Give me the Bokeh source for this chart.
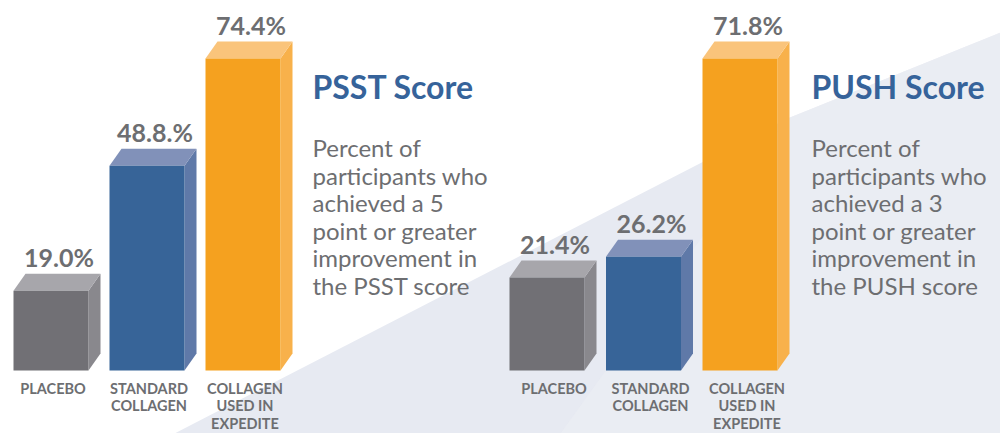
from bokeh.plotting import figure
from bokeh.models import Range1d
from bokeh.core.properties import value
from bokeh.embed import file_html
from bokeh.resources import INLINE

# ---------------- data ----------------
categories = ["PLACEBO", "STANDARD\nCOLLAGEN", "COLLAGEN\nUSED IN\nEXPEDITE"]
psst_values = [19.0, 48.8, 74.4]
psst_labels = ["19.0%", "48.8.%", "74.4%"]
push_values = [21.4, 26.2, 71.8]
push_labels = ["21.4%", "26.2%", "71.8%"]
titles = ["PSST Score", "PUSH Score"]
psst_desc = ["Percent of", "participants who", "achieved a 5", "point or greater",
             "improvement in", "the PSST score"]
push_desc = ["Percent of", "participants who", "achieved a 3", "point or greater",
             "improvement in", "the PUSH score"]

# ---------------- style ----------------
FRONT = ["#717075", "#376498", "#f5a11f"]
TOP = ["#a7a6ab", "#8191b9", "#fac47b"]
SIDE = ["#89888d", "#5f79a8", "#f8b14b"]
GRAY_TXT = "#6d6e71"
BLUE_TXT = "#36639a"
FONT = value("Lato")

W, H = 1000, 433
BASE_Y = 370          # pixel row of bar bottoms (layout coords)
BAR_W = 75
DX, DY = 12, 17       # 3D depth in pixels

p = figure(width=W, height=H, output_backend="svg", toolbar_location=None,
           x_range=Range1d(0, W), y_range=Range1d(H, 0),
           min_border=0, background_fill_color="white", border_fill_color="white",
           outline_line_color=None)
p.axis.visible = False
p.grid.visible = False

# background diagonal shape
p.patch([174, 787, 1000, 1000], [433, 118, 32, 433], fill_color="#e7eaf2",
        line_color=None)
p.patch([560, 787, 1000, 1000], [433, 118, 32, 433], fill_color="#eceef4",
        line_color=None, fill_alpha=0.6)

panels = [
    dict(name="psst", x0=13, step=96, scale=312 / 74.4, vals=psst_values,
         labels=psst_labels, title=titles[0], desc=psst_desc, tx=312, cat_dx=2),
    dict(name="push", x0=509, step=96.5, scale=312 / 71.8, vals=push_values,
         labels=push_labels, title=titles[1], desc=push_desc, tx=811, cat_dx=7),
]

for pn in panels:
    s = pn["scale"]
    rn = pn["name"]
    p.extra_y_ranges[rn] = Range1d((BASE_Y - H) / s, BASE_Y / s)
    d = DY / s
    lefts = [pn["x0"] + i * pn["step"] for i in range(len(pn["vals"]))]
    rights = [l + BAR_W for l in lefts]
    vals = pn["vals"]
    # side faces
    p.patches(xs=[[r, r + DX, r + DX, r] for r in rights],
              ys=[[0, d, v + d, v] for v in vals],
              fill_color=SIDE, line_color=None, y_range_name=rn)
    # top faces
    p.patches(xs=[[l, r, r + DX, l + DX] for l, r in zip(lefts, rights)],
              ys=[[v, v, v + d, v + d] for v in vals],
              fill_color=TOP, line_color=None, y_range_name=rn)
    # front faces
    p.quad(left=lefts, right=rights, bottom=0, top=vals, fill_color=FRONT,
           line_color=None, y_range_name=rn)
    # value labels
    p.text(x=[l + BAR_W / 2 + 8 for l in lefts],
           y=[v + (DY + 17) / s for v in vals], text=pn["labels"],
           text_font=FONT, text_font_style="bold", text_font_size="25px",
           text_color=GRAY_TXT, text_align="center", text_baseline="alphabetic",
           y_range_name=rn)
    # category labels
    p.text(x=[l + BAR_W / 2 + pn["cat_dx"] for l in lefts], y=[379] * 3,
           text=categories, text_font=FONT, text_font_style="bold",
           text_font_size="14.5px", text_color=GRAY_TXT, text_align="center",
           text_baseline="top", text_line_height=1.03)
    # title
    p.text(x=[pn["tx"]], y=[86], text=[pn["title"]], text_font=FONT,
           text_font_style="bold", text_font_size="32px", text_color=BLUE_TXT,
           text_align="left", text_baseline="alphabetic")
    # description
    p.text(x=[pn["tx"]] * len(pn["desc"]),
           y=[147 + i * 27.6 for i in range(len(pn["desc"]))], text=pn["desc"],
           text_font=FONT, text_font_size="24px", text_color=GRAY_TXT,
           text_align="left", text_baseline="alphabetic")

open("out.html", "w").write(file_html(p, INLINE))
